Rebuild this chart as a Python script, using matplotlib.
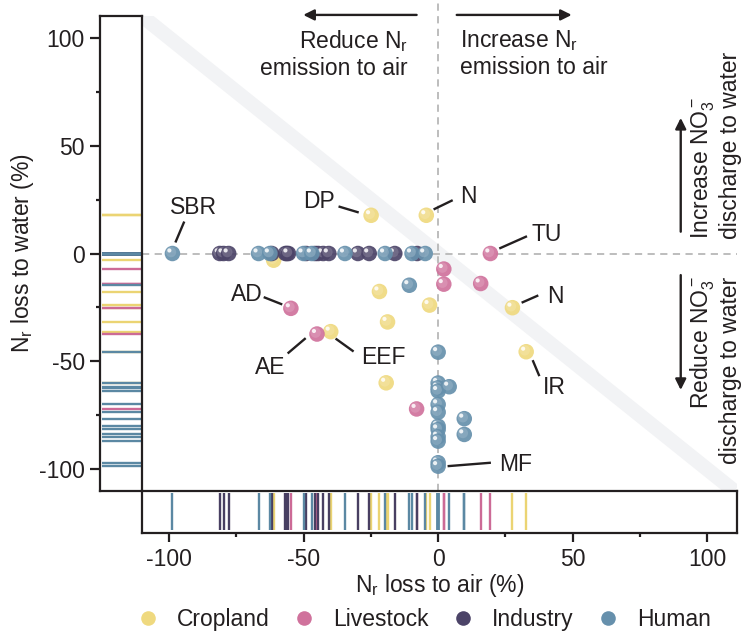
import matplotlib
matplotlib.use("Agg")
import matplotlib.pyplot as plt
import matplotlib.transforms as mtrans
from matplotlib.lines import Line2D
from matplotlib.legend_handler import HandlerTuple
from matplotlib.colors import to_rgb

plt.rcParams['font.family'] = ['Liberation Sans', 'DejaVu Sans']
plt.rcParams['mathtext.fontset'] = 'custom'
plt.rcParams['mathtext.rm'] = 'Liberation Sans'
plt.rcParams['mathtext.it'] = 'Liberation Sans:italic'
plt.rcParams['axes.unicode_minus'] = False
plt.rcParams['font.size'] = 16.5

INK = '#231F20'

# ---- data ----
groups = ['Cropland', 'Livestock', 'Industry', 'Human']
colors = {'Cropland': '#EFD97F', 'Livestock': '#D0729C',
          'Industry': '#4C4468', 'Human': '#6690AC'}
rug_colors = {'Cropland': '#EBD473', 'Livestock': '#CC6A96',
              'Industry': '#483F62', 'Human': '#5B88A3'}

cropland_x = [-24.9, -4.4, -61.1, -21.8, -3.2, -18.8, -39.9, -19.3, 27.6, 32.7]
cropland_y = [17.7, 17.7, -3.1, -17.6, -23.9, -31.7, -36.2, -59.9, -25.1, -45.5]

livestock_x = [-54.7, -45.0, 19.4, 2.1, 2.1, 15.8, -8.0]
livestock_y = [-25.4, -37.3, 0.0, -7.2, -14.2, -13.9, -72.0]

industry_x = [-81.1, -79.7, -77.8, -61.8, -56.7, -56.2, -55.6, -49.0,
              -45.7, -44.6, -42.7, -40.6, -29.8, -25.6, -16.1, -7.8]
industry_y = [0.0] * len(industry_x)

human_x = [-98.7, -66.7, -62.5, -50.0, -46.9, -34.6, -19.7, -9.7, -4.8,
           -10.7, 0.0, 0.0, 0.0, 0.0, 4.1, 0.0, 0.0, 9.7, 0.0, 0.0, 9.7,
           0.0, 0.0, 0.0, 0.0]
human_y = [0.0, 0.0, 0.0, 0.0, 0.0, 0.0, 0.0, 0.0, 0.0,
           -14.7, -45.7, -60.0, -62.2, -63.7, -61.7, -69.9, -73.5, -76.5,
           -80.0, -81.5, -83.8, -84.9, -86.9, -96.9, -98.5]

series = {'Cropland': (cropland_x, cropland_y),
          'Livestock': (livestock_x, livestock_y),
          'Industry': (industry_x, industry_y),
          'Human': (human_x, human_y)}

# labels: text, text position, leader line (x0, y0, x1, y1)
labels = [
    ('SBR', -90.8, 21.3, -97.6, 5.1, -94.3, 14.8),
    ('DP', -44.4, 24.1, -37.0, 21.8, -29.5, 19.0),
    ('N', 11.1, 26.4, -1.7, 20.4, 5.4, 24.7),
    ('TU', 40.3, 8.8, 22.7, 2.3, 33.0, 8.0),
    ('N', 43.4, -19.8, 31.0, -22.8, 37.2, -19.4),
    ('IR', 43.2, -62.2, 35.1, -49.4, 37.6, -56.8),
    ('MF', 28.9, -97.7, 3.5, -98.5, 19.6, -96.9),
    ('AD', -71.2, -19.0, -64.8, -20.2, -57.9, -23.6),
    ('AE', -62.3, -52.8, -49.2, -39.2, -55.9, -46.3),
    ('EEF', -20.2, -48.1, -38.1, -39.4, -31.4, -45.4),
]


def lighten(c, f):
    r, g, b = to_rgb(c)
    return (r + (1 - r) * f, g + (1 - g) * f, b + (1 - b) * f)


fig = plt.figure(figsize=(7.42, 6.35), dpi=100)
ax = fig.add_axes([0.19137, 0.22677, 0.80189, 0.74803])
axl = fig.add_axes([0.13477, 0.22677, 0.0566, 0.74803])
axb = fig.add_axes([0.19137, 0.16063, 0.80189, 0.06614])

XL = (-110, 111)
YL = (-110, 110)

# main panel
ax.set_xlim(*XL)
ax.set_ylim(*YL)
ax.axis('off')
ax.plot([-110, 110], [110, -110], color='#F2F3F5', lw=10.5,
        solid_capstyle='butt', zorder=0)
ax.axhline(0, color='#B8B8B8', lw=1.3, ls=(0, (4, 3)), zorder=1)
ax.axvline(0, color='#B8B8B8', lw=1.3, ls=(0, (4, 3)), zorder=1,
           ymax=1.06, clip_on=False)

off1 = mtrans.offset_copy(ax.transData, fig=fig, x=-1.0, y=1.0, units='points')
off2 = mtrans.offset_copy(ax.transData, fig=fig, x=-2.2, y=2.2, units='points')

z = 3.0
for g in groups:
    xs, ys = series[g]
    c = colors[g]
    for x, y in zip(xs, ys):
        ax.scatter([x], [y], s=125, color=c, edgecolors='none', alpha=0.92, zorder=z)
        ax.scatter([x], [y], s=55, color=lighten(c, 0.3), edgecolors='none',
                   alpha=0.6, zorder=z + 0.0001, transform=off1)
        ax.scatter([x], [y], s=9, color='white', edgecolors='none',
                   alpha=0.85, zorder=z + 0.0002, transform=off2)
        z += 0.001

for t, tx, ty, x0, y0, x1, y1 in labels:
    ax.plot([x0, x1], [y0, y1], color=INK, lw=1.7, zorder=10, solid_capstyle='butt')
    ax.text(tx, ty, t, ha='center', va='center', color=INK, zorder=10)

# direction arrows and texts
arr = dict(arrowstyle='-|>', lw=1.7, color=INK, mutation_scale=16, shrinkA=0, shrinkB=0)
ax.annotate('', xy=(-50.1, 110.5), xytext=(-8.0, 110.5), arrowprops=arr,
            annotation_clip=False)
ax.annotate('', xy=(49.6, 110.5), xytext=(6.9, 110.5), arrowprops=arr,
            annotation_clip=False)
ax.text(-11.2, 92.5, 'Reduce N$_\\mathrm{r}$\nemission to air', ha='right', va='center',
        multialignment='right', color=INK, linespacing=1.15)
ax.text(8.1, 92.5, 'Increase N$_\\mathrm{r}$\nemission to air', ha='left', va='center',
        multialignment='left', color=INK, linespacing=1.15)

ax.annotate('', xy=(90.1, 62.8), xytext=(90.1, 10.1), arrowprops=arr)
ax.annotate('', xy=(90.1, -63.2), xytext=(90.1, -10.0), arrowprops=arr)
ax.text(103.0, 6.5, 'Increase NO$_3^-$\ndischarge to water', rotation=90,
        ha='center', va='bottom', multialignment='left', color=INK, linespacing=1.1)
ax.text(103.0, -10.6, 'Reduce NO$_3^-$\ndischarge to water', rotation=90,
        ha='center', va='top', multialignment='right', color=INK, linespacing=1.1)

# rugs
for g in groups:
    xs, ys = series[g]
    axb.vlines(xs, 0.07, 0.95, color=rug_colors[g], lw=1.7)
    axl.hlines(ys, 0.05, 0.97, color=rug_colors[g], lw=1.7)

axb.set_xlim(*XL)
axb.set_ylim(0, 1)
axl.set_ylim(*YL)
axl.set_xlim(0, 1)

for a in (axb, axl):
    for s in a.spines.values():
        s.set_linewidth(1.6)
        s.set_color(INK)

axb.set_yticks([])
axb.set_xticks([-100, -50, 0, 50, 100])
axb.set_xticks([-75, -25, 25, 75], minor=True)
axb.tick_params(axis='x', which='major', length=6.5, width=1.6, color=INK,
                labelcolor=INK, pad=4)
axb.tick_params(axis='x', which='minor', length=3, width=1.6, color=INK)
axb.set_xlabel('N$_\\mathrm{r}$ loss to air (%)', color=INK, labelpad=1)

axl.set_xticks([])
axl.set_yticks([-100, -50, 0, 50, 100])
axl.set_yticks([-75, -25, 25, 75], minor=True)
axl.tick_params(axis='y', which='major', length=7, width=1.6, color=INK,
                labelcolor=INK, pad=4)
axl.tick_params(axis='y', which='minor', length=3, width=1.6, color=INK)
axl.set_ylabel('N$_\\mathrm{r}$ loss to water (%)', color=INK, labelpad=2)

# legend
handles = []
for g in groups:
    base = Line2D([], [], ls='none', marker='o', markersize=10.5,
                  markerfacecolor=colors[g], markeredgecolor='none')
    hi = Line2D([], [], ls='none', marker='o', markersize=3,
                markerfacecolor='white', markeredgecolor='none', alpha=0.8)
    handles.append((base, hi))
fig.legend(handles, groups, loc='center', bbox_to_anchor=(0.577, 0.025), ncol=4,
           frameon=False, handletextpad=0.55, columnspacing=1.42, handlelength=0.8,
           handler_map={tuple: HandlerTuple(ndivide=None)}, labelcolor=INK)

fig.savefig('out.png', dpi=100)
